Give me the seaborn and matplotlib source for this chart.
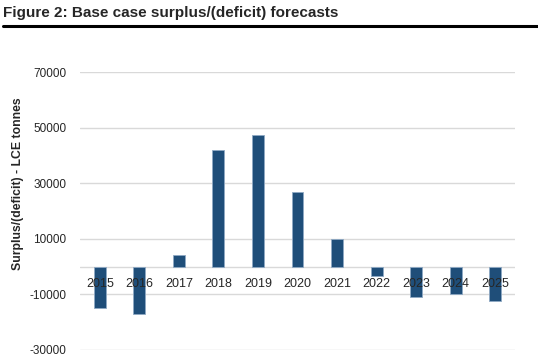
import matplotlib
matplotlib.use("Agg")
import matplotlib.pyplot as plt
import pandas as pd
import seaborn as sns

# ---------------------------------------------------------------------------
# Data
# ---------------------------------------------------------------------------
years = ["2015", "2016", "2017", "2018", "2019", "2020",
         "2021", "2022", "2023", "2024", "2025"]
surplus = [-15000, -17000, 4000, 42000, 47500, 27000,
           10000, -3500, -11000, -10000, -12500]
y_ticks = [-30000, -10000, 10000, 30000, 50000, 70000]

title = "Figure 2: Base case surplus/(deficit) forecasts"
y_label = "Surplus/(deficit) - LCE tonnes"

df = pd.DataFrame({"year": years, "surplus": surplus})

sns.set_theme(style="white")
plt.rcParams["font.family"] = ["Liberation Sans", "DejaVu Sans"]

fig = plt.figure(figsize=(5.38, 3.59), dpi=100)
ax = fig.add_axes([80 / 538, 1 - 350 / 359, 435 / 538, 278 / 359])

sns.barplot(data=df, x="year", y="surplus", order=years, color="#1f4e79",
            width=0.3, saturation=1, edgecolor="#8fa9c4", linewidth=0.6,
            ax=ax, zorder=2)

ax.set_ylim(-30000, 70000)
ax.set_yticks(y_ticks)
ax.set_yticklabels([str(v) for v in y_ticks], fontsize=8.5)
ax.yaxis.grid(True, color="#d9d9d9", linewidth=1.0)
ax.axhline(0, color="#d9d9d9", linewidth=1.0, zorder=1)

for s in ["top", "right", "left", "bottom"]:
    ax.spines[s].set_visible(False)
ax.spines["bottom"].set_position(("data", 0))

ax.tick_params(axis="both", length=0)
ax.tick_params(axis="x", pad=8, labelsize=9)
ax.tick_params(axis="y", pad=10)

# grid behind the bars, year labels on top of them
ax.set_axisbelow(True)
ax.xaxis.set_zorder(3)

ax.set_xlabel("")
ax.set_ylabel(y_label, fontsize=8.8, fontweight="bold")
ax.yaxis.set_label_coords(-0.128, 0.60)

# title and rule below it
fig.text(3 / 538, 1 - 13 / 359, title, fontsize=11, fontweight="bold",
         va="center", ha="left")
fig.add_artist(plt.Line2D([3 / 538, 1], [1 - 26 / 359, 1 - 26 / 359],
                          color="black", linewidth=2.2))

fig.savefig("out.png", dpi=100)
